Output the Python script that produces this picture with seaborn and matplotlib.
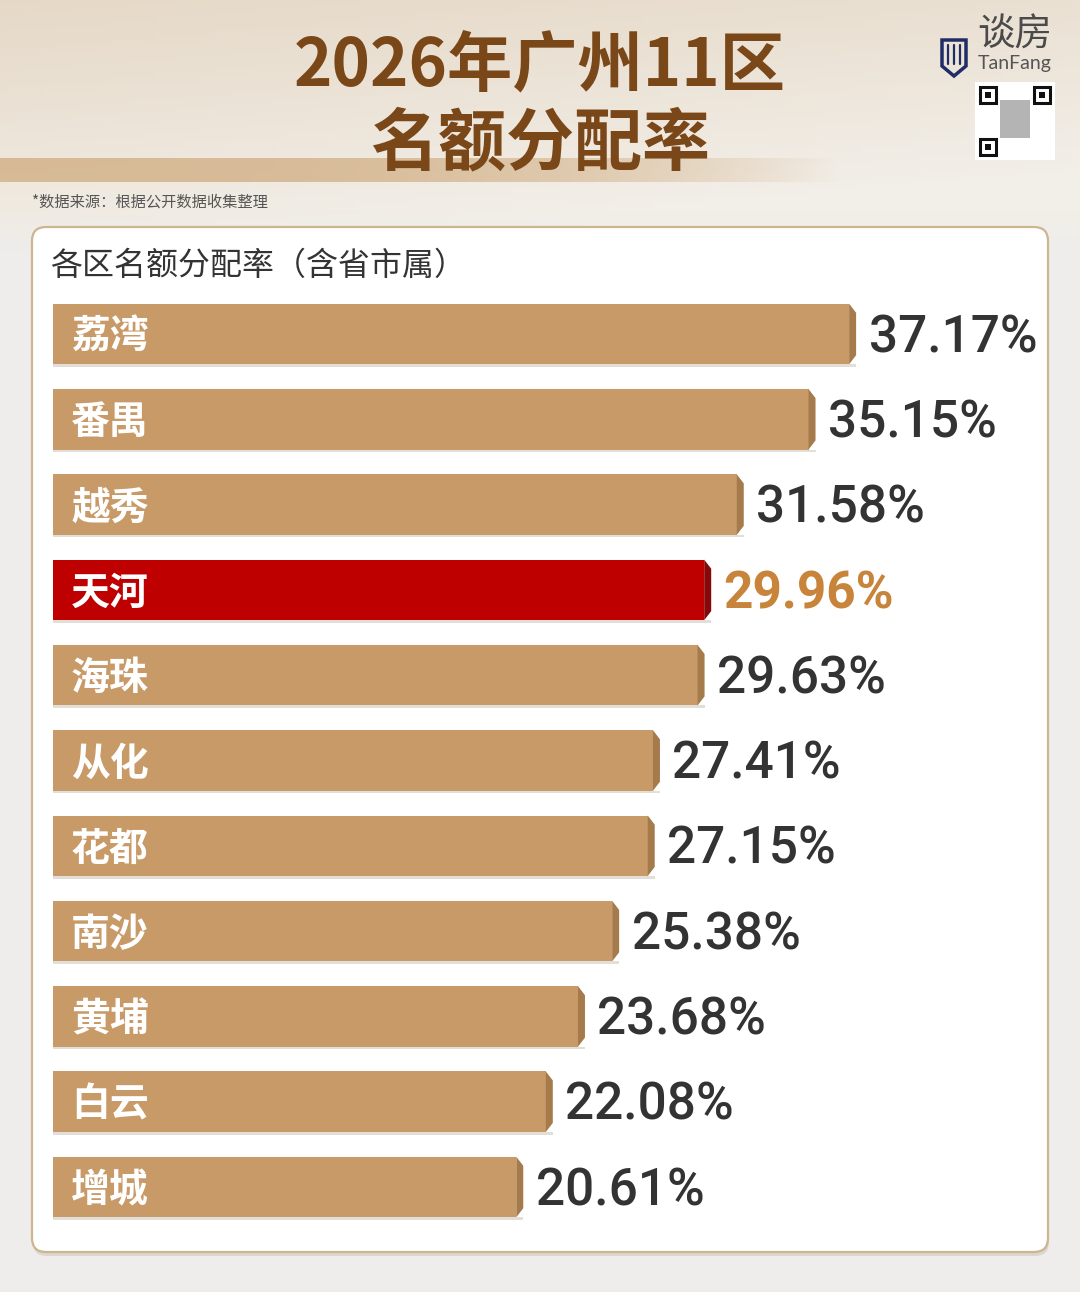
import numpy as np
import matplotlib
matplotlib.use("Agg")
import matplotlib.pyplot as plt
import seaborn as sns
from matplotlib.patches import FancyBboxPatch, Polygon, Rectangle

# ---- data ----
districts = ["荔湾", "番禺", "越秀", "天河", "海珠", "从化", "花都", "南沙", "黄埔", "白云", "增城"]
rates = [37.17, 35.15, 31.58, 29.96, 29.63, 27.41, 27.15, 25.38, 23.68, 22.08, 20.61]
highlight = "天河"
title_line1 = "2026年广州11区"
title_line2 = "名额分配率"
source_note = "*数据来源：根据公开数据收集整理"
panel_title = "各区名额分配率（含省市属）"

# ---- style ----
sns.set_theme(style="white")
plt.rcParams["font.family"] = ["Noto Sans CJK SC", "DejaVu Sans"]

W, H = 1080, 1292
fig = plt.figure(figsize=(W / 100, H / 100), dpi=100)

TAN = "#C89A68"
TAN_DARK = "#A57B4C"
RED = "#BE0000"
RED_DARK = "#860808"
HL_TEXT = "#C7843A"

# ---- background axes in pixel coordinates ----
bg = fig.add_axes([0, 0, 1, 1])
bg.set_xlim(0, W)
bg.set_ylim(H, 0)
bg.axis("off")

# gradient background
gy = np.linspace(0, 1, 300)[:, None]
gx = np.linspace(0, 1, 200)[None, :]
top_c = np.array([0.90, 0.85, 0.78])
mid_c = np.array([0.95, 0.935, 0.91])
low_c = np.array([0.935, 0.932, 0.928])
img = np.zeros((300, 200, 3))
t = np.clip(gy / 0.16, 0, 1)
mix = np.clip(t * 0.8 + gx * 0.35, 0, 1)[..., None]
img[:] = top_c * (1 - mix) + mid_c * mix
rows = np.where(gy[:, 0] > 0.16)[0]
for r in rows:
    b = min(1.0, (gy[r, 0] - 0.16) / 0.04)
    img[r] = img[r] * (1 - b) + low_c * b
bg.imshow(img, extent=(0, W, H, 0), aspect="auto", zorder=0)

# tan band behind title
band_n = 300
band = np.ones((1, band_n, 4))
band[..., :3] = np.array([0.83, 0.70, 0.54])
band[0, :, 3] = np.clip(1.0 - np.linspace(0, 1, band_n) ** 3, 0, 1) * 0.85
bg.imshow(band, extent=(0, 840, 182, 158), aspect="auto", zorder=1)

# title
bg.text(540, 66, title_line1, ha="center", va="center", fontsize=47,
        fontweight="bold", color="#7A4718", zorder=3)
bg.text(540, 145, title_line2, ha="center", va="center", fontsize=49,
        fontweight="bold", color="#7A4718", zorder=3)

# source note
bg.text(32, 202, source_note, ha="left", va="center", fontsize=11,
        color="#555555", zorder=3)

# logo
pencil = Polygon([(942, 40), (966, 40), (966, 66), (954, 76), (942, 66)],
                 closed=True, fill=False, edgecolor="#1F2C66", lw=2.5, zorder=3)
bg.add_patch(pencil)
for xx in (948, 954, 960):
    bg.plot([xx, xx], [45, 64], color="#1F2C66", lw=1.6, zorder=3)
bg.text(1015, 35, "谈房", ha="center", va="center", fontsize=27,
        color="#4A4A4A", zorder=3)
bg.text(1015, 63, "TanFang", ha="center", va="center", fontsize=14,
        color="#555555", family=["Lato", "DejaVu Sans"], zorder=3)

# QR placeholder
bg.add_patch(Rectangle((975, 82), 80, 78, facecolor="white", edgecolor="none", zorder=3))
for (qx, qy) in ((980, 87), (1034, 87), (980, 139)):
    bg.add_patch(Rectangle((qx, qy), 16, 16, facecolor="none", edgecolor="#111111", lw=2.2, zorder=4))
    bg.add_patch(Rectangle((qx + 5, qy + 5), 6, 6, facecolor="#111111", edgecolor="none", zorder=4))
bg.add_patch(Rectangle((1000, 100), 30, 38, facecolor="#777777", edgecolor="none", alpha=0.55, zorder=4))

# card with shadow
shadow = FancyBboxPatch((33, 230), 1016, 1026, boxstyle="round,pad=0,rounding_size=14",
                        facecolor="#CFC8BC", edgecolor="none", alpha=0.6, zorder=2)
bg.add_patch(shadow)
card = FancyBboxPatch((32, 227), 1016, 1025, boxstyle="round,pad=0,rounding_size=14",
                      facecolor="white", edgecolor="#CDB58F", lw=1.6, zorder=2)
bg.add_patch(card)
bg.text(50, 266, panel_title, ha="left", va="center", fontsize=23,
        color="#333333", zorder=3)

# ---- bar chart ----
left_px, right_px = 53, 1033
top_px, bot_px = 291.35, 1229.65
px_per_unit = 20.1
pad = 56 / px_per_unit          # label area in front of the value scale
bevel = 7 / px_per_unit         # width of darker end face
xmax = (right_px - left_px) / px_per_unit - pad

ax = fig.add_axes([left_px / W, 1 - bot_px / H, (right_px - left_px) / W, (bot_px - top_px) / H])
ax.patch.set_alpha(0)

colors = {d: (RED if d == highlight else TAN) for d in districts}
sns.barplot(x=rates, y=districts, hue=districts, palette=colors, orient="h",
            width=0.71, saturation=1, legend=False, ax=ax, zorder=2)
ax.set_xlim(-pad, xmax)
ax.set_ylim(len(districts) - 0.5, -0.5)

for patch, d, v in zip(ax.patches, districts, rates):
    y0 = patch.get_y()
    h = patch.get_height()
    patch.set_x(-pad)
    patch.set_width(v + pad - bevel)
    patch.set_edgecolor("none")
    dark = RED_DARK if d == highlight else TAN_DARK
    c = h * 0.15
    ax.add_patch(Polygon([(v - bevel, y0), (v, y0 + c), (v, y0 + h - c), (v - bevel, y0 + h)],
                         closed=True, facecolor=dark, edgecolor="none", zorder=3))
    # faint shadow under the bar
    ax.add_patch(Rectangle((-pad, y0 + h), v + pad, 0.03, facecolor="#E2DED8",
                           edgecolor="none", zorder=1))

for i, (d, v) in enumerate(zip(districts, rates)):
    ax.annotate(d, xy=(-pad, i), xytext=(13, -2.5), textcoords="offset points",
                ha="left", va="center", fontsize=28, fontweight="bold", color="white", zorder=4)
    is_hl = d == highlight
    ax.annotate(f"{v:.2f}%", xy=(v, i), xytext=(9, -3), textcoords="offset points",
                ha="left", va="center", fontsize=37,
                fontweight="bold" if is_hl else "medium",
                color=HL_TEXT if is_hl else "#333333",
                family=["Roboto", "DejaVu Sans"], zorder=4)

ax.set_xlabel("")
ax.set_ylabel("")
ax.set_xticks([])
ax.set_yticks([])
sns.despine(ax=ax, left=True, bottom=True)

fig.savefig("out.png", dpi=100)
